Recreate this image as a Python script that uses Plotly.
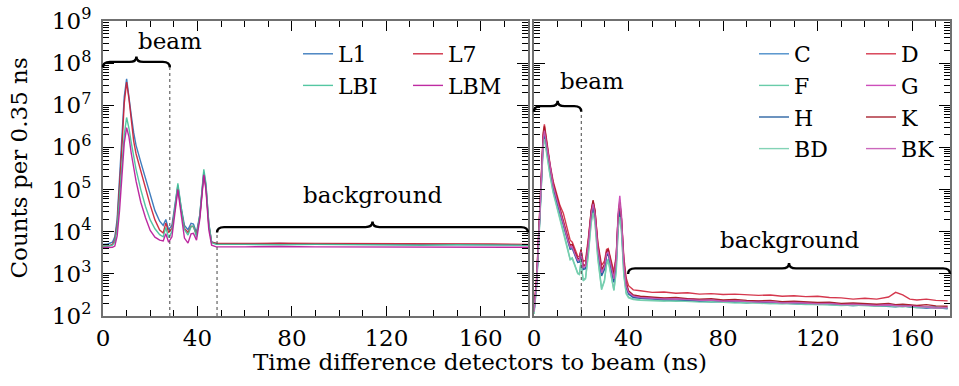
import plotly.graph_objects as go

# ---------------- data (counts stored as log10) ----------------
# Left panel: time difference (ns)
time_left = [0, 2, 4, 5, 6, 7, 8, 9, 10, 11, 12, 13, 14, 16, 18, 20, 22, 24, 25.5, 26.6,
             27.8, 29.2, 30.5, 31.7, 33, 34.5, 36, 37.3, 38.3, 39.6, 41, 42, 42.7, 43.6, 44.8, 46,
             48, 60, 75, 90, 105, 120, 135, 150, 165, 180]
L1_log10 = [3.70, 3.71, 3.75, 3.88, 4.3, 5.2, 6.2, 7.2, 7.63, 7.25, 6.75, 6.35, 6.05, 5.65, 5.25, 4.88, 4.5, 4.25, 4.15, 4.29,
            4.05, 4.15, 4.6, 5.1, 4.6, 4.15, 4.05, 4.2, 4.18, 3.98, 4.4, 5.1, 5.42, 5.1, 4.2, 3.76,
            3.72, 3.71, 3.72, 3.70, 3.71, 3.70, 3.70, 3.69, 3.70, 3.69]
L7_log10 = [3.66, 3.66, 3.70, 3.8, 4.2, 5.0, 6.0, 7.05, 7.55, 7.15, 6.6, 6.15, 5.85, 5.42, 5.0, 4.63, 4.28, 4.04, 3.97, 4.21,
            3.98, 4.08, 4.55, 5.05, 4.55, 4.08, 3.98, 4.13, 4.12, 3.93, 4.35, 5.05, 5.38, 5.05, 4.15, 3.75,
            3.72, 3.72, 3.73, 3.72, 3.72, 3.71, 3.72, 3.71, 3.71, 3.70]
LBI_log10 = [3.66, 3.66, 3.68, 3.75, 4.1, 4.8, 5.6, 6.3, 6.71, 6.45, 6.1, 5.75, 5.48, 5.0, 4.6, 4.28, 4.07, 3.93, 3.88, 4.1,
             3.86, 4.0, 4.6, 5.15, 4.62, 4.05, 3.92, 4.12, 4.14, 3.88, 4.4, 5.15, 5.48, 5.15, 4.2, 3.74,
             3.70, 3.70, 3.69, 3.70, 3.69, 3.69, 3.68, 3.69, 3.68, 3.68]
LBM_log10 = [3.62, 3.62, 3.63, 3.66, 3.9, 4.5, 5.3, 6.1, 6.47, 6.25, 5.85, 5.5, 5.2, 4.7, 4.33, 4.03, 3.87, 3.8, 3.78, 3.95,
             3.75, 3.88, 4.45, 5.0, 4.45, 3.85, 3.73, 3.95, 3.96, 3.8, 4.3, 5.0, 5.35, 5.0, 4.05, 3.68,
             3.64, 3.64, 3.65, 3.64, 3.64, 3.63, 3.64, 3.63, 3.63, 3.63]

# Right panel: time difference (ns)
time_right = [0, 1.1, 2.5, 3.2, 3.9, 4.4, 5.4, 6.8, 8.1, 9.6,
              11, 12.4, 13.6, 14.6, 15.3, 16.2, 17.3, 18.5, 19.2, 19.9,
              20.8, 21.8, 23, 24.2, 25, 25.8, 27, 28.6, 29.8, 30.7,
              31.4, 32.5, 33.8, 34.8, 35.6, 36.3, 37, 38, 39, 40,
              42, 45, 50, 55, 60, 65, 70, 75, 80, 85,
              90, 95, 100, 105, 110, 115, 120, 125, 130, 135,
              140, 145, 150, 153, 156, 159, 162, 166, 170, 175]
C_log10 = [2.1, 2.8, 4.5, 5.5, 6.2, 6.38, 6.0, 5.48, 5.08, 4.76,
           4.45, 4.2, 3.95, 3.72, 3.62, 3.64, 3.45, 3.3, 3.32, 3.52,
           3.12, 3.15, 3.7, 4.4, 4.62, 4.4, 3.6, 3.0, 3.15, 3.45,
           3.5, 3.2, 2.85, 3.3, 4.25, 4.55, 4.2, 3.2, 2.7, 2.55,
           2.46, 2.44, 2.42, 2.4, 2.41, 2.38, 2.37, 2.38, 2.35, 2.34,
           2.35, 2.33, 2.32, 2.33, 2.3, 2.31, 2.29, 2.3, 2.27, 2.28,
           2.26, 2.25, 2.26, 2.24, 2.23, 2.25, 2.22, 2.2, 2.21, 2.18]
D_log10 = [2.15, 2.9, 4.6, 5.65, 6.35, 6.55, 6.15, 5.6, 5.2, 4.9,
           4.62, 4.44, 4.15, 3.95, 3.8, 3.75, 3.6, 3.42, 3.4, 3.56,
           3.3, 3.32, 3.85, 4.5, 4.72, 4.5, 3.75, 3.2, 3.3, 3.58,
           3.6, 3.35, 3.05, 3.45, 4.35, 4.65, 4.3, 3.4, 2.9, 2.72,
           2.62, 2.6, 2.56, 2.57, 2.54, 2.55, 2.52, 2.53, 2.51, 2.52,
           2.5, 2.49, 2.5, 2.47, 2.48, 2.46, 2.47, 2.44, 2.43, 2.4,
           2.42, 2.4, 2.45, 2.56, 2.5, 2.4, 2.38, 2.4, 2.37, 2.36]
F_log10 = [2.05, 2.7, 4.3, 5.3, 6.05, 6.25, 5.85, 5.35, 4.95, 4.6,
           4.3, 4.02, 3.75, 3.5, 3.35, 3.38, 3.2, 3.02, 3.0, 3.3,
           2.85, 2.9, 3.5, 4.25, 4.5, 4.25, 3.4, 2.65, 2.85, 3.25,
           3.35, 3.0, 2.62, 3.1, 4.1, 4.4, 4.05, 3.0, 2.55, 2.45,
           2.4, 2.38, 2.37, 2.38, 2.35, 2.36, 2.34, 2.33, 2.34, 2.32,
           2.31, 2.32, 2.3, 2.29, 2.3, 2.28, 2.27, 2.28, 2.26, 2.25,
           2.26, 2.24, 2.25, 2.23, 2.22, 2.24, 2.21, 2.22, 2.2, 2.2]
G_log10 = [2.1, 2.8, 4.45, 5.5, 6.25, 6.42, 6.05, 5.52, 5.12, 4.8,
           4.5, 4.25, 4.0, 3.78, 3.66, 3.66, 3.5, 3.35, 3.35, 3.55,
           3.18, 3.2, 3.75, 4.45, 4.7, 4.45, 3.65, 3.05, 3.2, 3.5,
           3.55, 3.25, 2.9, 3.4, 4.45, 4.85, 4.4, 3.3, 2.75, 2.58,
           2.48, 2.45, 2.43, 2.41, 2.4, 2.41, 2.38, 2.37, 2.36, 2.37,
           2.34, 2.35, 2.33, 2.32, 2.33, 2.31, 2.3, 2.31, 2.28, 2.29,
           2.27, 2.26, 2.27, 2.25, 2.24, 2.25, 2.23, 2.22, 2.2, 2.19]
H_log10 = [2.1, 2.75, 4.4, 5.45, 6.15, 6.32, 5.95, 5.45, 5.05, 4.73,
           4.42, 4.17, 3.92, 3.7, 3.58, 3.6, 3.42, 3.27, 3.28, 3.48,
           3.1, 3.12, 3.65, 4.35, 4.6, 4.35, 3.55, 2.95, 3.1, 3.42,
           3.48, 3.15, 2.8, 3.25, 4.2, 4.5, 4.15, 3.15, 2.68, 2.52,
           2.44, 2.42, 2.4, 2.39, 2.37, 2.38, 2.35, 2.34, 2.35, 2.33,
           2.32, 2.33, 2.3, 2.31, 2.29, 2.28, 2.29, 2.27, 2.26, 2.25,
           2.26, 2.24, 2.23, 2.22, 2.24, 2.21, 2.2, 2.19, 2.2, 2.17]
K_log10 = [2.15, 2.85, 4.55, 5.6, 6.3, 6.5, 6.1, 5.55, 5.15, 4.83,
           4.52, 4.28, 4.02, 3.8, 3.68, 3.7, 3.52, 3.36, 3.36, 3.58,
           3.2, 3.22, 3.78, 4.5, 4.75, 4.5, 3.7, 3.1, 3.22, 3.52,
           3.58, 3.28, 2.95, 3.4, 4.35, 4.7, 4.3, 3.3, 2.8, 2.6,
           2.5, 2.47, 2.45, 2.43, 2.44, 2.41, 2.4, 2.41, 2.38, 2.39,
           2.37, 2.36, 2.37, 2.34, 2.35, 2.33, 2.32, 2.33, 2.3, 2.31,
           2.29, 2.28, 2.3, 2.27, 2.28, 2.26, 2.25, 2.27, 2.24, 2.23]
BD_log10 = [2.05, 2.7, 4.35, 5.35, 6.05, 6.2, 5.82, 5.32, 4.92, 4.58,
            4.28, 4.0, 3.73, 3.48, 3.33, 3.36, 3.18, 3.0, 2.98, 3.28,
            2.83, 2.88, 3.45, 4.2, 4.45, 4.2, 3.35, 2.62, 2.82, 3.22,
            3.3, 2.95, 2.6, 3.05, 4.05, 4.35, 4.0, 2.95, 2.52, 2.43,
            2.39, 2.37, 2.36, 2.35, 2.36, 2.34, 2.33, 2.34, 2.32, 2.31,
            2.32, 2.3, 2.29, 2.3, 2.28, 2.27, 2.28, 2.26, 2.25, 2.26,
            2.24, 2.23, 2.24, 2.22, 2.23, 2.21, 2.2, 2.21, 2.19, 2.19]
BK_log10 = [2.1, 2.8, 4.45, 5.5, 6.2, 6.4, 6.02, 5.5, 5.1, 4.78,
            4.48, 4.22, 3.97, 3.75, 3.63, 3.64, 3.47, 3.32, 3.33, 3.53,
            3.15, 3.18, 3.72, 4.42, 4.66, 4.42, 3.62, 3.02, 3.17, 3.48,
            3.52, 3.22, 2.88, 3.35, 4.38, 4.75, 4.32, 3.25, 2.72, 2.56,
            2.47, 2.44, 2.42, 2.4, 2.41, 2.39, 2.37, 2.38, 2.35, 2.36,
            2.34, 2.33, 2.34, 2.31, 2.32, 2.3, 2.29, 2.3, 2.27, 2.28,
            2.26, 2.25, 2.26, 2.24, 2.23, 2.24, 2.22, 2.21, 2.19, 2.2]

left_names = ["L1", "L7", "LBI", "LBM"]
left_series = [L1_log10, L7_log10, LBI_log10, LBM_log10]
right_names = ["C", "D", "F", "G", "H", "K", "BD", "BK"]
right_series = [C_log10, D_log10, F_log10, G_log10, H_log10, K_log10, BD_log10, BK_log10]

for s in left_series:
    assert len(s) == len(time_left), len(s)
for s in right_series:
    assert len(s) == len(time_right), len(s)

# ---------------- styling ----------------
FONT = "DejaVu Serif"
FS = 23
LFS = 22
W, H = 959, 386
ML, MR, MT, MB = 103, 9, 21, 70
PW, PH = W - ML - MR, H - MT - MB
L_DOM = [0, (528 - ML) / PW]
R_DOM = [(534 - ML) / PW, 1]
XL_RANGE = [0, 180]
XR_RANGE = [0, 176]
Y_RANGE = [2, 9]

left_colors = {"L1": "#2f72b8", "L7": "#cc1f36", "LBI": "#45c29a", "LBM": "#b8199a"}
right_colors = {"C": "#3d84c6", "D": "#d2283f", "F": "#5cc8a2", "G": "#c93fb5",
                "H": "#1b589c", "K": "#a3121f", "BD": "#78cfb0", "BK": "#c75bb6"}
left_legend_col = {"L1": "legend", "LBI": "legend", "L7": "legend2", "LBM": "legend2"}
right_legend_col = {"C": "legend3", "F": "legend3", "H": "legend3", "BD": "legend3",
                    "D": "legend4", "G": "legend4", "K": "legend4", "BK": "legend4"}

fig = go.Figure()
for name, vals in zip(left_names, left_series):
    fig.add_trace(go.Scatter(x=time_left, y=[10 ** v for v in vals], mode="lines", name=name,
                             line=dict(color=left_colors[name], width=1.4), opacity=0.92,
                             xaxis="x", yaxis="y", legend=left_legend_col[name],
                             legendgroup=name))
for name, vals in zip(right_names, right_series):
    fig.add_trace(go.Scatter(x=time_right, y=[10 ** v for v in vals], mode="lines", name=name,
                             line=dict(color=right_colors[name], width=1.4), opacity=0.92,
                             xaxis="x2", yaxis="y2", legend=right_legend_col[name],
                             legendgroup=name))

# ---------------- axes ----------------
major_y = [10 ** k for k in range(2, 10)]
minor_y = [m * 10 ** k for k in range(2, 9) for m in range(2, 10)]
ytext = [f"10<sup>{k}</sup>" for k in range(2, 10)]

def xaxis_cfg(dom, rng):
    return dict(domain=dom, range=rng, tickvals=[0, 40, 80, 120, 160], ticks="inside", ticklen=10,
                tickcolor="black", tickwidth=1, showline=True, linecolor="#707070", linewidth=2,
                mirror="ticks", showgrid=False, zeroline=False,
                minor=dict(tickvals=[v for v in range(10, 180, 10) if v % 40], ticks="inside",
                           ticklen=6, tickcolor="black", tickwidth=1, showgrid=False),
                tickfont=dict(family=FONT, size=FS, color="black"))

def yaxis_cfg(labels):
    return dict(type="log", range=Y_RANGE, domain=[0, 1], tickvals=major_y, ticktext=ytext,
                showticklabels=labels, ticks="inside", ticklen=11, tickcolor="black", tickwidth=1,
                showline=True, linecolor="#707070", linewidth=2, mirror="ticks",
                showgrid=False, zeroline=False, ticklabelstandoff=5,
                minor=dict(tickvals=minor_y, ticks="inside", ticklen=6, tickcolor="black",
                           tickwidth=1, showgrid=False),
                tickfont=dict(family=FONT, size=FS, color="black"))

# ---------------- helpers for decorations (paper coordinates) ----------------
def xp(dom, rng, v):
    return dom[0] + (v - rng[0]) / (rng[1] - rng[0]) * (dom[1] - dom[0])

def yp(lv):
    return (lv - Y_RANGE[0]) / (Y_RANGE[1] - Y_RANGE[0])

def brace_path(x0, x1, y, xm=None):
    if xm is None:
        xm = (x0 + x1) / 2
    r = 7 / PW
    d = 5.5 / PH
    return (f"M {x0},{y - d} Q {x0},{y} {x0 + r},{y} L {xm - r},{y} "
            f"Q {xm},{y} {xm},{y + d} Q {xm},{y} {xm + r},{y} L {x1 - r},{y} "
            f"Q {x1},{y} {x1},{y - d}")

# decoration positions (ns / log10 counts)
beamL = (0, 28.3, 8.03)
bgL = (48.3, 180, 4.11)
beamR = (0, 20, 6.98)
bgR = (39.8, 176, 3.13)

shapes = []
for (a, b, lv), dom, rng in [(beamL, L_DOM, XL_RANGE), (bgL, L_DOM, XL_RANGE),
                             (beamR, R_DOM, XR_RANGE), (bgR, R_DOM, XR_RANGE)]:
    shapes.append(dict(type="path", xref="paper", yref="paper",
                       path=brace_path(xp(dom, rng, a), xp(dom, rng, b), yp(lv)),
                       line=dict(color="black", width=2.4)))

d_end = 5.5 / PH
for xv, dom, rng, lv in [(28.3, L_DOM, XL_RANGE, 8.03), (48.3, L_DOM, XL_RANGE, 4.11),
                         (20, R_DOM, XR_RANGE, 6.98)]:
    shapes.append(dict(type="line", xref="paper", yref="paper",
                       x0=xp(dom, rng, xv), x1=xp(dom, rng, xv), y0=0, y1=yp(lv) - d_end,
                       line=dict(color="#444", width=1, dash="dot")))

def ann(text, x, y, **kw):
    d = dict(text=text, x=x, y=y, xref="paper", yref="paper", showarrow=False,
             font=dict(family=FONT, size=FS, color="black"))
    d.update(kw)
    return d

annotations = [
    ann("beam", xp(L_DOM, XL_RANGE, 14.1), (H - MB - 41) / PH, xanchor="left", yanchor="middle"),
    ann("background", xp(L_DOM, XL_RANGE, 114), (H - MB - 195) / PH, xanchor="center", yanchor="middle"),
    ann("beam", xp(R_DOM, XR_RANGE, 10.1), (H - MB - 81) / PH, xanchor="left", yanchor="middle"),
    ann("background", xp(R_DOM, XR_RANGE, 108), (H - MB - 240) / PH, xanchor="center", yanchor="middle"),
    ann("Counts per 0.35 ns", (18 - ML) / PW, 0.5, textangle=-90, xanchor="center", yanchor="middle"),
    ann("Time difference detectors to beam (ns)", (480 - ML) / PW, (H - MB - 362) / PH,
        xanchor="center", yanchor="middle"),
]

def legend_cfg(px_text, py_top):
    return dict(x=(px_text - 40 - ML) / PW, y=(H - MB - py_top) / PH, xanchor="left", yanchor="top",
                bgcolor="rgba(0,0,0,0)", borderwidth=0, tracegroupgap=0,
                font=dict(family=FONT, size=LFS, color="black"), traceorder="grouped")

fig.update_layout(
    width=W, height=H, margin=dict(l=ML, r=MR, t=MT, b=MB, autoexpand=False),
    paper_bgcolor="white", plot_bgcolor="white",
    xaxis=dict(anchor="y", **xaxis_cfg(L_DOM, XL_RANGE)),
    xaxis2=dict(anchor="y2", **xaxis_cfg(R_DOM, XR_RANGE)),
    yaxis=dict(anchor="x", **yaxis_cfg(True)),
    yaxis2=dict(anchor="x2", **yaxis_cfg(False)),
    shapes=shapes, annotations=annotations,
    legend=legend_cfg(338, 33),
    legend2=legend_cfg(448, 33),
    legend3=legend_cfg(794, 33),
    legend4=legend_cfg(901, 33),
    showlegend=True,
)

fig.write_html("out.html")
